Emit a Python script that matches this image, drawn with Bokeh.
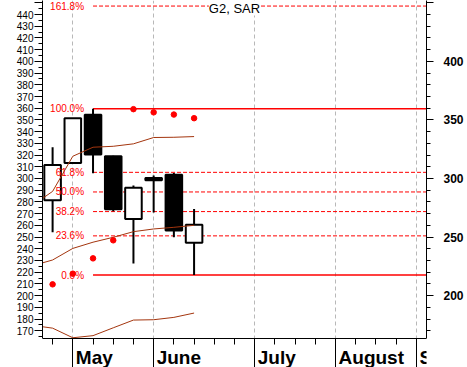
from bokeh.plotting import figure
from bokeh.models import FixedTicker, LinearAxis, Label, Range1d
from bokeh.embed import file_html
from bokeh.resources import INLINE
from bokeh.core.properties import value

# ---- data ----
week_idx = [0, 1, 2, 3, 4, 5, 6, 7]
opens = [281.5, 313.3, 354.4, 319.0, 265.4, 300.5, 303.3, 245.2]
highs = [326.7, 351.5, 359.5, 319.5, 294.0, 302.6, 304.7, 274.0]
lows = [254.0, 313.3, 304.4, 272.0, 227.5, 271.0, 249.8, 217.5]
closes = [311.6, 351.5, 320.4, 273.7, 292.0, 298.5, 255.5, 260.5]

sar = [209.6, 218.7, 231.8, 247.2, 359.2, 356.5, 354.6, 351.5]

band_idx = [-1, 0, 1, 2, 3, 4, 5, 6, 7]
band_upper = [277.0, 289.0, 319.0, 326.7, 327.5, 329.6, 335.0, 335.2, 335.8]
band_middle = [225.5, 230.4, 240.3, 245.6, 249.8, 254.6, 256.9, 258.3, 260.0]
band_lower = [174.6, 172.2, 164.0, 165.8, 172.5, 179.1, 179.4, 181.4, 185.1]

fib_ratios = [0.0, 0.236, 0.382, 0.5, 0.618, 1.0, 1.618]
fib_labels = ["0.0%", "23.6%", "38.2%", "50.0%", "61.8%", "100.0%", "161.8%"]

month_names = ["May", "June", "July", "August", "S"]
month_pos = [1, 5, 10, 14, 18]
week_ticks = list(range(0, 19))
left_ticks = list(range(170, 451, 10))
left_minor = list(range(165, 452, 5))
right_ticks = [200, 250, 300, 350, 400, 450]
right_minor = list(range(170, 452, 10))

X0, X1 = -0.5, 18.5
Y0, Y1 = 138.6, 452.0      # visible value range (frame reaches the canvas bottom)
AXIS_Y = 163.2             # value where the time axis sits
FONT = "Liberation Sans"
BROWN = "#a3350e"

p = figure(width=467, height=367, x_range=Range1d(X0, X1), y_range=Range1d(Y0, Y1),
           output_backend="svg", toolbar_location=None,
           min_border_left=42, min_border_right=41, min_border_top=0, min_border_bottom=0)
p.outline_line_color = None
p.background_fill_color = "white"
p.border_fill_color = "white"
p.ygrid.visible = False

# x axis: month boundaries as long major ticks, weeks as minor ticks
xa = p.xaxis[0]
xa.fixed_location = AXIS_Y
xa.ticker = FixedTicker(ticks=month_pos, minor_ticks=week_ticks)
xa.major_label_overrides = {m: "" for m in month_pos}
xa.major_label_text_font_size = "0px"
xa.major_label_standoff = 0
xa.major_tick_out = 30
xa.major_tick_in = 0
xa.minor_tick_out = 6
xa.minor_tick_in = 0
xa.axis_line_color = "black"
xa.major_tick_line_color = "black"
xa.minor_tick_line_color = "black"

p.xgrid.grid_line_color = "#b8b8b8"
p.xgrid.grid_line_dash = "4 3"
p.xgrid.grid_line_width = 1

# left y axis
ya = p.yaxis[0]
ya.bounds = (AXIS_Y, Y1)
ya.ticker = FixedTicker(ticks=left_ticks, minor_ticks=left_minor)
ya.major_label_overrides = {450: ""}
ya.major_tick_out = 8
ya.major_tick_in = 0
ya.minor_tick_out = 4
ya.minor_tick_in = 0
ya.major_label_standoff = 1
ya.major_label_text_font = FONT
ya.major_label_text_font_size = "10px"
ya.major_label_text_color = "black"
ya.axis_line_color = "black"

# right y axis
ry = LinearAxis(ticker=FixedTicker(ticks=right_ticks, minor_ticks=right_minor), bounds=(AXIS_Y, Y1))
ry.major_label_overrides = {450: ""}
ry.major_tick_out = 7
ry.major_tick_in = 0
ry.minor_tick_out = 4
ry.minor_tick_in = 0
ry.major_label_standoff = 10
ry.major_label_text_font = FONT
ry.major_label_text_font_size = "12px"
ry.major_label_text_font_style = "bold"
ry.major_label_text_color = "black"
p.add_layout(ry, "right")

# fibonacci retracement
fib_high = max(highs)
fib_low = min(lows)
fib_start = highs.index(fib_high)
fib_levels = [fib_low + r * (fib_high - fib_low) for r in fib_ratios]
solid_levels = [lv for r, lv in zip(fib_ratios, fib_levels) if r in (0.0, 1.0)]
dash_levels = [lv for r, lv in zip(fib_ratios, fib_levels) if r not in (0.0, 1.0)]

p.segment(x0=[fib_start] * len(dash_levels), y0=dash_levels, x1=[X1] * len(dash_levels), y1=dash_levels,
          line_color="red", line_width=1, line_dash="4 2")
p.segment(x0=[fib_start] * len(solid_levels), y0=solid_levels, x1=[X1] * len(solid_levels), y1=solid_levels,
          line_color="red", line_width=1.5)

# candles
body_top = [max(o, c) for o, c in zip(opens, closes)]
body_bot = [min(o, c) for o, c in zip(opens, closes)]
body_fill = ["white" if c > o else "black" for o, c in zip(opens, closes)]
p.segment(x0=week_idx, y0=highs, x1=week_idx, y1=lows, line_color="black", line_width=2)
p.vbar(x=week_idx, width=0.82, top=body_top, bottom=body_bot,
       fill_color=body_fill, line_color="black", line_width=2)

# fibonacci level labels (drawn over the candles)
p.text(x=[fib_start] * len(fib_levels), y=fib_levels, text=fib_labels, x_offset=-9,
       text_align="right", text_baseline="middle", text_font=value(FONT),
       text_font_size="10px", text_color="red")

# envelope lines
p.line(band_idx, band_upper, line_color=BROWN, line_width=1)
p.line(band_idx, band_middle, line_color=BROWN, line_width=1)
p.line(band_idx, band_lower, line_color=BROWN, line_width=1)

# SAR
p.scatter(week_idx, sar, size=5.5, marker="circle", fill_color="red", line_color="red")

# title
p.add_layout(Label(x=(X0 + X1) / 2, y=Y1, y_offset=0, text="G2, SAR", text_align="center",
                   text_baseline="top", text_font=FONT, text_font_size="13px",
                   text_color="black", background_fill_color="white"))

# month labels (left-aligned after each month boundary, clipped by the frame)
p.text(x=month_pos, y=[AXIS_Y] * len(month_pos), text=month_names, x_offset=3, y_offset=8,
       text_align="left", text_baseline="top", text_font=value(FONT),
       text_font_size="19px", text_font_style="bold", text_color="black")

open("out.html", "w").write(file_html(p, INLINE))
